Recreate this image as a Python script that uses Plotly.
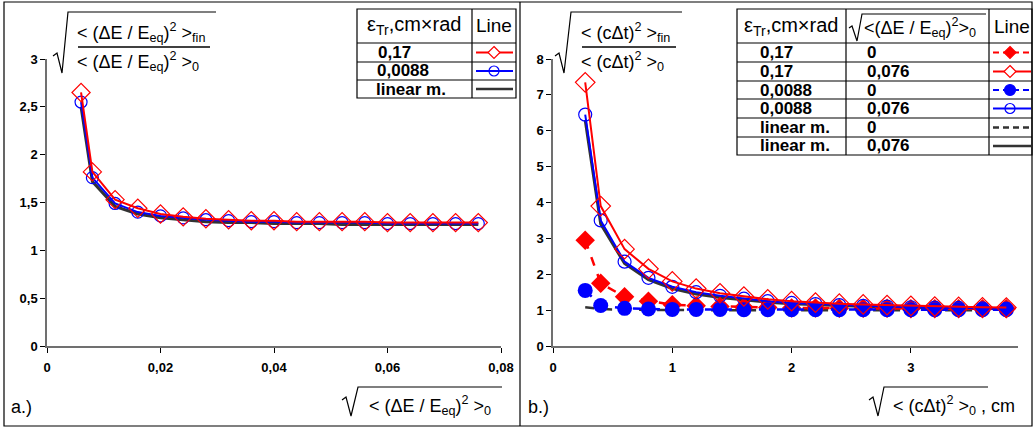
import plotly.graph_objects as go

W, H = 1035, 427

# ---------------- data ----------------
# panel a
xa = [0.006, 0.008, 0.012, 0.016, 0.020, 0.024, 0.028, 0.032, 0.036, 0.040,
      0.044, 0.048, 0.052, 0.056, 0.060, 0.064, 0.068, 0.072, 0.076]
a_red = [2.65, 1.82, 1.53, 1.44, 1.38, 1.35, 1.33, 1.32, 1.31, 1.31,
         1.30, 1.30, 1.30, 1.30, 1.29, 1.29, 1.29, 1.29, 1.29]
a_blue = [2.55, 1.76, 1.49, 1.40, 1.36, 1.34, 1.32, 1.31, 1.30, 1.30,
          1.29, 1.29, 1.29, 1.29, 1.28, 1.28, 1.28, 1.28, 1.28]
a_lin = [2.50, 1.72, 1.46, 1.38, 1.34, 1.32, 1.30, 1.29, 1.29, 1.28,
         1.28, 1.28, 1.27, 1.27, 1.27, 1.27, 1.27, 1.27, 1.27]

# panel b
xb = [0.27, 0.4, 0.6, 0.8, 1.0, 1.2, 1.4, 1.6, 1.8, 2.0,
      2.2, 2.4, 2.6, 2.8, 3.0, 3.2, 3.4, 3.6, 3.8]
b_red_076 = [7.35, 3.9, 2.7, 2.15, 1.8, 1.6, 1.47, 1.38, 1.3, 1.25,
             1.21, 1.18, 1.16, 1.14, 1.12, 1.1, 1.09, 1.08, 1.07]
b_blue_076 = [6.45, 3.5, 2.35, 1.9, 1.65, 1.5, 1.4, 1.32, 1.25, 1.2,
              1.17, 1.14, 1.12, 1.1, 1.08, 1.07, 1.06, 1.05, 1.04]
b_lin_076 = [6.3, 3.4, 2.3, 1.85, 1.6, 1.45, 1.35, 1.28, 1.22, 1.18,
             1.15, 1.12, 1.1, 1.08, 1.07, 1.06, 1.05, 1.04, 1.04]
b_red_0 = [2.95, 1.75, 1.37, 1.25, 1.15, 1.12, 1.1, 1.08, 1.07, 1.06,
           1.06, 1.05, 1.05, 1.05, 1.04, 1.04, 1.04, 1.04, 1.04]
b_blue_0 = [1.55, 1.13, 1.05, 1.03, 1.02, 1.02, 1.02, 1.01, 1.01, 1.01,
            1.01, 1.01, 1.01, 1.01, 1.01, 1.01, 1.01, 1.01, 1.01]
b_lin_0 = [1.08, 1.03, 1.01, 1.0, 1.0, 1.0, 1.0, 1.0, 1.0, 1.0,
           1.0, 1.0, 1.0, 1.0, 1.0, 1.0, 1.0, 1.0, 1.0]

a_xticks = [0, 0.02, 0.04, 0.06, 0.08]
a_xlabels = ["0", "0,02", "0,04", "0,06", "0,08"]
a_yticks = [0, 0.5, 1, 1.5, 2, 2.5, 3]
a_ylabels = ["0", "0,5", "1", "1,5", "2", "2,5", "3"]
b_xticks = [0, 1, 2, 3]
b_xlabels = ["0", "1", "2", "3"]
b_yticks = [0, 1, 2, 3, 4, 5, 6, 7, 8]
b_ylabels = ["0", "1", "2", "3", "4", "5", "6", "7", "8"]

legend_a_rows = ["0,17", "0,0088", "linear m."]
legend_b_col1 = ["0,17", "0,17", "0,0088", "0,0088", "linear m.", "linear m."]
legend_b_col2 = ["0", "0,076", "0", "0,076", "0", "0,076"]

RED = "#ff0000"
BLUE = "#0000ff"
DARK = "#333333"
FONT = "Liberation Sans, Arial, sans-serif"


def X(px):
    return px / W


def Y(py):
    return 1 - py / H


fig = go.Figure()

# ---------------- panel a traces ----------------
fig.add_trace(go.Scatter(x=xa, y=a_lin, mode="lines", line=dict(color=DARK, width=3),
                         xaxis="x", yaxis="y", showlegend=False))
fig.add_trace(go.Scatter(x=xa, y=a_blue, mode="lines+markers", line=dict(color=BLUE, width=2),
                         marker=dict(symbol="circle-open", size=12, color=BLUE, line=dict(width=1.2)),
                         xaxis="x", yaxis="y", showlegend=False))
fig.add_trace(go.Scatter(x=xa, y=a_red, mode="lines+markers", line=dict(color=RED, width=2),
                         marker=dict(symbol="diamond-open", size=14, color=RED, line=dict(width=1.2)),
                         xaxis="x", yaxis="y", showlegend=False))

# ---------------- panel b traces ----------------
fig.add_trace(go.Scatter(x=xb, y=b_lin_0, mode="lines", line=dict(color=DARK, width=2.5, dash="dash"),
                         xaxis="x2", yaxis="y2", showlegend=False))
fig.add_trace(go.Scatter(x=xb, y=b_lin_076, mode="lines", line=dict(color=DARK, width=3),
                         xaxis="x2", yaxis="y2", showlegend=False))
fig.add_trace(go.Scatter(x=xb, y=b_red_0, mode="lines+markers", line=dict(color=RED, width=2.5, dash="dash"),
                         marker=dict(symbol="diamond", size=15, color=RED),
                         xaxis="x2", yaxis="y2", showlegend=False))
fig.add_trace(go.Scatter(x=xb, y=b_blue_0, mode="lines+markers", line=dict(color=BLUE, width=2.5, dash="dash"),
                         marker=dict(symbol="circle", size=15, color=BLUE),
                         xaxis="x2", yaxis="y2", showlegend=False))
fig.add_trace(go.Scatter(x=xb, y=b_blue_076, mode="lines+markers", line=dict(color=BLUE, width=2),
                         marker=dict(symbol="circle-open", size=13, color=BLUE, line=dict(width=1.2)),
                         xaxis="x2", yaxis="y2", showlegend=False))
fig.add_trace(go.Scatter(x=xb, y=b_red_076, mode="lines+markers", line=dict(color=RED, width=2),
                         marker=dict(symbol="diamond-open", size=15, color=RED, line=dict(width=1.2)),
                         xaxis="x2", yaxis="y2", showlegend=False))

axis_common = dict(showline=True, linecolor="#707070", linewidth=1.5, ticks="outside",
                   tickcolor="#000000", ticklen=5, tickwidth=1, showgrid=False, zeroline=False,
                   automargin=False, tickfont=dict(family=FONT, size=13, color="#000000"),
                   fixedrange=True)

fig.update_layout(
    width=W, height=H,
    margin=dict(l=0, r=0, t=0, b=0, pad=0),
    paper_bgcolor="white", plot_bgcolor="white",
    font=dict(family=FONT, color="#000000"),
    xaxis=dict(domain=[X(47), X(501)], range=[0, 0.08], anchor="y",
               tickvals=a_xticks, ticktext=["<b>%s</b>" % t for t in a_xlabels],
               ticklabelstandoff=4, **axis_common),
    yaxis=dict(domain=[Y(346), Y(59)], range=[0, 3], anchor="x",
               tickvals=a_yticks, ticktext=["<b>%s</b>" % t for t in a_ylabels], **axis_common),
    xaxis2=dict(domain=[X(553), X(553 + 3.9 * 119.3)], range=[0, 3.9], anchor="y2",
                tickvals=b_xticks, ticktext=["<b>%s</b>" % t for t in b_xlabels],
                ticklabelstandoff=4, **axis_common),
    yaxis2=dict(domain=[Y(346), Y(59)], range=[0, 8], anchor="x2",
                tickvals=b_yticks, ticktext=["<b>%s</b>" % t for t in b_ylabels], **axis_common),
)

shapes = []
ann = []


def line(x0, y0, x1, y1, color="#000000", width=1, dash=None):
    d = dict(type="line", xref="paper", yref="paper", x0=X(x0), y0=Y(y0), x1=X(x1), y1=Y(y1),
             line=dict(color=color, width=width))
    if dash:
        d["line"]["dash"] = dash
    shapes.append(d)


def path(pts, color="#000000", width=1.2):
    s = "M " + " L ".join("%f,%f" % (X(a), Y(b)) for a, b in pts)
    shapes.append(dict(type="path", xref="paper", yref="paper", path=s,
                       line=dict(color=color, width=width)))


def text(x, y, t, size=16, anchor="left", color="#000000"):
    ann.append(dict(xref="paper", yref="paper", x=X(x), y=Y(y), text=t, showarrow=False,
                    xanchor=anchor, yanchor="middle", borderpad=0,
                    font=dict(family=FONT, size=size, color=color)))


def diamond(cx, cy, r, color, filled):
    pts = [(cx, cy - r), (cx + r, cy), (cx, cy + r), (cx - r, cy)]
    s = "M " + " L ".join("%f,%f" % (X(a), Y(b)) for a, b in pts) + " Z"
    shapes.append(dict(type="path", xref="paper", yref="paper", path=s,
                       fillcolor=color if filled else "white", line=dict(color=color, width=1.2)))


def circle(cx, cy, r, color, filled):
    shapes.append(dict(type="circle", xref="paper", yref="paper",
                       x0=X(cx - r), x1=X(cx + r), y0=Y(cy + r), y1=Y(cy - r),
                       fillcolor=color if filled else "rgba(0,0,0,0)", line=dict(color=color, width=1.2)))


# panel frames
shapes.append(dict(type="rect", xref="paper", yref="paper", x0=X(4), x1=X(1032), y0=Y(426), y1=Y(2),
                   line=dict(color="#000000", width=1.2)))
line(520, 2, 520, 426, width=1.2)

# ---------- y-axis titles ----------
# panel a
path([(53, 56), (57, 53), (62, 73), (68, 12), (216, 12)])
text(76, 33, "&lt; (ΔE / E<sub>eq</sub>)<sup>2</sup> &gt;<sub>fin</sub>", size=18)
line(78, 47, 210, 47, width=1.5)
text(76, 62, "&lt; (ΔE / E<sub>eq</sub>)<sup>2</sup> &gt;<sub>0</sub>", size=18)
# panel b
path([(555, 56), (559, 53), (564, 73), (571, 12), (682, 12)])
text(580, 33, "&lt; (cΔt)<sup>2</sup> &gt;<sub>fin</sub>", size=18)
line(582, 47, 676, 47, width=1.5)
text(580, 62, "&lt; (cΔt)<sup>2</sup> &gt;<sub>0</sub>", size=18)

# ---------- x-axis titles ----------
path([(342, 400), (346, 397), (351, 416), (358, 387), (502, 387)])
text(368, 405, "&lt; (ΔE / E<sub>eq</sub>)<sup>2</sup> &gt;<sub>0</sub>", size=18)
path([(869, 400), (873, 397), (878, 416), (884, 387), (988, 387)])
text(892, 405, "&lt; (cΔt)<sup>2</sup> &gt;<sub>0</sub> , cm", size=18)

# panel labels
text(10, 407, "a.)", size=18)
text(527, 407, "b.)", size=18)

# ---------- legend table a ----------
shapes.append(dict(type="rect", xref="paper", yref="paper", x0=X(357), x1=X(516), y0=Y(98), y1=Y(9),
                   line=dict(color="#000000", width=1.2)))
for yy in (43, 62, 80):
    line(357, yy, 516, yy, width=1.2)
line(472, 9, 472, 98, width=1.2)
text(414, 26, "ε<sub>Tr</sub>,cm×rad", size=20, anchor="center")
text(494, 26, "Line", size=19, anchor="center")
rows_a = [52.5, 71, 89]
text(377, rows_a[0], "<b>%s</b>" % legend_a_rows[0], size=17)
text(376, rows_a[1], "<b>%s</b>" % legend_a_rows[1], size=17)
text(375, rows_a[2], "<b>%s</b>" % legend_a_rows[2], size=17)
line(476, rows_a[0], 513, rows_a[0], RED, 2)
diamond(494, rows_a[0], 6, RED, False)
line(476, rows_a[1], 513, rows_a[1], BLUE, 2)
circle(494, rows_a[1], 5, BLUE, False)
line(476, rows_a[2], 513, rows_a[2], DARK, 2.5)

# ---------- legend table b ----------
shapes.append(dict(type="rect", xref="paper", yref="paper", x0=X(737), x1=X(1032), y0=Y(155), y1=Y(9),
                   line=dict(color="#000000", width=1.2)))
for yy in (43, 62, 81, 99, 118, 137):
    line(737, yy, 1032, yy, width=1.2)
line(846, 9, 846, 155, width=1.2)
line(989, 9, 989, 155, width=1.2)
text(791, 27, "ε<sub>Tr</sub>,cm×rad", size=20, anchor="center")
text(1012, 27, "Line", size=19, anchor="center")
path([(849, 28), (852, 26), (857, 41), (862, 14), (986, 14)])
text(863, 28, "&lt;(ΔE / E<sub>eq</sub>)<sup>2</sup>&gt;<sub>0</sub>", size=18)
rows_b = [52.5, 71.5, 90, 108.5, 127.5, 146]
for i, r in enumerate(rows_b):
    text(759, r, "<b>%s</b>" % legend_b_col1[i], size=17)
    text(866, r, "<b>%s</b>" % legend_b_col2[i], size=17)
styles = [(RED, "dash", "diamond", True), (RED, None, "diamond", False),
          (BLUE, "dash", "circle", True), (BLUE, None, "circle", False),
          (DARK, "dash", None, None), (DARK, None, None, None)]
for r, (c, d, m, f) in zip(rows_b, styles):
    line(993, r, 1031, r, c, 2.5 if c == DARK else 2, "6px,4px" if d else None)
    if m == "diamond":
        diamond(1010, r, 6, c, f)
    elif m == "circle":
        circle(1010, r, 5.5 if f else 5, c, f)

fig.update_layout(shapes=shapes, annotations=ann)
fig.write_html("out.html", post_script="document.body.style.margin='0';",
               config={"displayModeBar": False})
